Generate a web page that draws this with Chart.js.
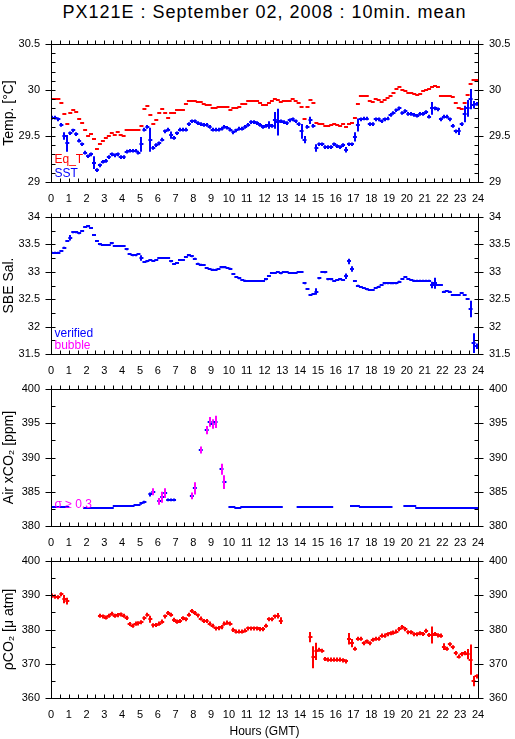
<!DOCTYPE html>
<html lang="en">
<head>
<meta charset="UTF-8">
<title>PX121E : September 02, 2008 : 10min. mean</title>
<script src="https://cdn.jsdelivr.net/npm/chart.js"></script>
<style>
  body { margin: 0; background: #fff; }
  #page { position: relative; width: 515px; height: 739px; overflow: hidden; }
  #page canvas { position: absolute; left: 0; top: 0; }
  #title {
    position: absolute; left: 0; top: 2px; width: 529px;
    text-align: center; line-height: 20px; letter-spacing: 1px;
    font: 18px "Liberation Sans", Arial, Helvetica, sans-serif;
  }
</style>
</head>
<body>
<div id="page">
  <div id="title">PX121E : September 02, 2008 : 10min. mean</div>
  <canvas id="c1" width="515" height="739"></canvas>
  <canvas id="c2" width="515" height="739"></canvas>
  <canvas id="c3" width="515" height="739"></canvas>
  <canvas id="c4" width="515" height="739"></canvas>
</div>

<script>
// 10-minute means, one row per hour (GMT)
const binHours = 10 / 60;

const eqT = [
  29.90, 29.90, 29.90, 29.86, 29.74, 29.63,
  29.75, 29.78, 29.76, 29.68, 29.64, 29.56,
  29.50, 29.52, 29.47, 29.36, 29.41, 29.45,
  29.48, 29.50, 29.53, 29.51, 29.54, 29.51,
  29.50, 29.57, 29.57, 29.57, 29.57, 29.57,
  29.61, 29.79, 29.83, 29.73, 29.63, 29.67,
  29.75, 29.79, 29.75, 29.70, 29.75, 29.75,
  29.78, 29.78, 29.78, 29.85, 29.88, 29.88,
  29.88, 29.87, 29.87, 29.85, 29.84, 29.84,
  29.80, 29.80, 29.82, 29.82, 29.82, 29.82,
  29.78, 29.80, 29.80, 29.82, 29.85, 29.85,
  29.88, 29.88, 29.88, 29.88, 29.86, 29.84,
  29.84, 29.86, 29.88, 29.90, 29.89, 29.87,
  29.88, 29.88, 29.88, 29.90, 29.88, 29.86,
  29.81, 29.68, 29.81, 29.89, 29.86, 29.64,
  29.63, 29.63, 29.61, 29.61, 29.62, 29.63,
  29.62, 29.61, 29.63, 29.60, 29.63, 29.64,
  29.70, 29.85, 29.93, 29.93, 29.93, 29.88,
  29.87, 29.90, 29.89, 29.87, 29.89, 29.91,
  29.94, 29.97, 30.01, 30.03, 30.00, 29.99,
  29.97, 29.97, 29.96, 29.95, 29.96, 29.99,
  30.00, 30.01, 30.03, 30.04, 30.03, 29.93,
  29.93, 29.93, 29.93, 29.92, 29.86, 29.80,
  29.79, 29.86, 29.95, 30.06, 30.11, 30.11
];

const sst = [
  29.70, 29.70, 29.68, 29.62, 29.50, 29.42,
  29.53, 29.56, 29.52, 29.45, 29.41, 29.32,
  29.28, 29.30, 29.21, 29.13, 29.18, 29.22,
  29.23, 29.27, 29.30, 29.29, 29.30, 29.27,
  29.27, 29.33, 29.34, 29.34, 29.34, 29.32,
  29.41, 29.57, 29.60, 29.46, 29.37, 29.40,
  29.42, 29.46, 29.55, 29.57, 29.51, 29.48,
  29.53, 29.57, 29.57, 29.57, 29.63, 29.66,
  29.66, 29.64, 29.63, 29.62, 29.62, 29.60,
  29.57, 29.57, 29.57, 29.58, 29.60, 29.59,
  29.57, 29.54, 29.56, 29.58, 29.58, 29.60,
  29.62, 29.65, 29.65, 29.64, 29.62, 29.60,
  29.61, 29.62, 29.61, 29.67, 29.65, 29.66,
  29.65, 29.64, 29.67, 29.68, 29.66, 29.63,
  29.55, 29.46, 29.60, 29.67, 29.61, 29.37,
  29.41, 29.41, 29.38, 29.38, 29.38, 29.41,
  29.39, 29.38, 29.40, 29.35, 29.41, 29.41,
  29.49, 29.62, 29.68, 29.69, 29.69, 29.63,
  29.63, 29.68, 29.68, 29.66, 29.68, 29.69,
  29.73, 29.75, 29.78, 29.80, 29.75, 29.77,
  29.74, 29.74, 29.73, 29.72, 29.74, 29.74,
  29.76, 29.71, 29.80, 29.80, 29.79, 29.68,
  29.71, 29.71, 29.68, 29.61, 29.55, 29.55,
  29.63, 29.74, 29.80, 29.90, 29.84, 29.85
];
// standard deviation of the 10-min bins (default, then larger ones by bin index)
const sstErrDefault = 0.02;
const sstErrBig = { 4: 0.04, 5: 0.09, 14: 0.07, 30: 0.08, 33: 0.13, 40: 0.04, 73: 0.04, 75: 0.09, 76: 0.145,
  84: 0.08, 85: 0.04, 87: 0.04, 89: 0.04, 99: 0.03, 102: 0.05, 103: 0.07, 128: 0.07, 137: 0.04,
  139: 0.09, 140: 0.09, 141: 0.11, 142: 0.04 };

const salinity = [
  33.35, 33.35, 33.35, 33.38, 33.44, 33.56,
  33.62, 33.72, 33.72, 33.70, 33.74, 33.82,
  33.83, 33.80, 33.67, 33.56, 33.50, 33.49,
  33.49, 33.49, 33.52, 33.47, 33.47, 33.47,
  33.47, 33.41, 33.33, 33.30, 33.30, 33.33,
  33.25, 33.18, 33.19, 33.21, 33.20, 33.22,
  33.25, 33.25, 33.25, 33.25, 33.19, 33.14,
  33.16, 33.22, 33.22, 33.27, 33.30, 33.28,
  33.24, 33.15, 33.13, 33.12, 33.07, 33.05,
  33.04, 33.04, 33.05, 33.08, 33.08, 33.07,
  33.06, 32.96, 32.90, 32.88, 32.85, 32.84,
  32.83, 32.83, 32.83, 32.83, 32.83, 32.83,
  32.86, 32.92, 32.98, 32.98, 33.00, 32.97,
  33.00, 33.00, 32.98, 32.98, 32.98, 33.00,
  33.00, 32.79, 32.69, 32.58, 32.59, 32.64,
  32.88, 33.00, 32.99, 32.86, 32.86, 32.83,
  32.85, 32.86, 32.85, 32.92, 33.19, 33.05,
  32.83, 32.75, 32.72, 32.70, 32.68, 32.67,
  32.67, 32.70, 32.73, 32.76, 32.79, 32.79,
  32.79, 32.79, 32.79, 32.82, 32.87, 32.90,
  32.87, 32.85, 32.84, 32.84, 32.84, 32.84,
  32.84, 32.84, 32.76, 32.79, 32.76, 32.76,
  32.64, 32.65, 32.64, 32.58, 32.58, 32.58,
  32.61, 32.58, 32.50, 32.32, 31.70, 31.64
];
const salErrDefault = 0.015;
const salErrBig = { 6: 0.05, 30: 0.05, 89: 0.06, 99: 0.05, 100: 0.05, 101: 0.05, 128: 0.06, 129: 0.1,
  141: 0.15, 142: 0.18, 143: 0.05 };

const airCO2 = [
  382.8, 382.8, 382.8, 382.8, 382.8, 382.8,
  null, null, null, null, null, 382.67,
  382.67, 382.67, 382.67, 382.67, 382.67, 382.67,
  382.67, 382.67, 382.67, 382.86, 382.95, 382.95,
  382.95, 382.95, 382.95, 382.95, 383.05, 383.05,
  383.3, 383.5, null, 384.6, 385.0, null,
  383.6, 384.2, 384.8, 383.8, 383.8, 383.8,
  null, null, null, null, null, 384.4,
  385.5, null, 391.1, null, 394.0, 395.2,
  394.9, 395.2, null, 388.3, 386.4, null,
  382.8, 382.8, 382.7, 382.7, 382.8, 382.8,
  382.8, 382.8, 382.8, 382.8, 382.8, 382.8,
  382.8, 382.8, 382.8, 382.8, 382.8, 382.8,
  null, null, null, null, null, 382.8,
  382.8, 382.8, 382.8, 382.8, 382.8, 382.8,
  382.8, 382.8, 382.8, 382.8, 382.8, null,
  null, null, null, null, null, 382.9,
  382.9, 382.9, 382.8, 382.8, 382.8, 382.8,
  382.8, 382.8, 382.8, 382.8, 382.8, 382.8,
  382.8, null, null, null, null, 382.85,
  382.85, 382.85, 382.85, 382.65, 382.65, 382.65,
  382.65, 382.65, 382.65, 382.65, 382.65, 382.65,
  382.65, 382.65, 382.65, 382.65, 382.65, 382.65,
  382.65, 382.65, 382.65, 382.65, 382.65, 382.65
];
const airErrDefault = 0;
const airErrBig = { 30: 0.2, 31: 0.2, 33: 0.3, 34: 0.5, 36: 0.5, 37: 0.8, 38: 0.7, 39: 0.2, 40: 0.2, 41: 0.2,
  47: 0.5, 48: 0.9, 50: 0.5, 52: 0.6, 53: 0.7, 54: 0.7, 55: 0.9, 57: 0.8, 58: 1.0 };
// bins with sigma >= 0.3
const airHighSigma = [34, 36, 37, 38, 47, 48, 50, 52, 53, 54, 55, 57, 58];

const pCO2 = [
  389.9, 389.6, 389.4, 390.3, 388.9, 388.3,
  null, null, null, null, null, null,
  null, null, null, null, 384.0, 383.8,
  383.5, 384.0, 384.6, 384.0, 384.2, 384.4,
  384.0, 383.4, 381.6, 381.1, 381.7, 381.8,
  382.1, 383.3, 384.3, 383.0, 381.2, 381.3,
  381.7, 382.3, 383.8, 384.8, 384.3, 382.8,
  382.3, 382.5, 383.3, 383.0, 384.3, 385.4,
  384.8, 384.1, 383.2, 382.5, 382.5, 381.7,
  381.1, 380.3, 380.4, 380.7, 381.7, 382.0,
  381.7, 379.9, 379.4, 379.4, 379.4, 379.7,
  380.3, 380.3, 380.3, 380.3, 380.1, 380.1,
  381.1, 383.0, 383.0, 383.8, 384.0, 382.6,
  null, null, null, null, null, null,
  null, null, null, 377.8, 371.9, 373.6,
  374.1, 373.8, 371.4, 371.2, 371.2, 371.2,
  371.2, 371.2, 371.0, 370.7, 377.3, 376.0,
  374.4, 377.3, 377.3, 376.0, 376.5, 376.0,
  377.0, 377.3, 377.3, 378.2, 378.2, 378.6,
  378.9, 379.1, 379.4, 380.1, 380.7, 380.1,
  379.2, 379.2, 378.6, 378.6, 378.9, 378.7,
  379.6, 378.4, 378.4, 378.7, 378.3, 378.2,
  375.0, 374.4, 375.7, 374.8, 373.1, 372.1,
  372.8, 373.1, 372.8, 371.2, 364.9, 366.3
];
const pco2ErrDefault = 0.6;
const pco2ErrBig = { 4: 1.2, 5: 1.0, 33: 1.0, 76: 0.8, 77: 1.0, 87: 1.5, 88: 3.2, 89: 2.5, 100: 1.7, 101: 1.2,
  128: 2.5, 132: 1.0, 140: 1.5, 141: 4.4, 142: 1.5 };

const RED = '#ff0000', BLUE = '#0000ff', MAGENTA = '#ff00ff';
const FONT = '"Liberation Sans", Arial, Helvetica, sans-serif';

function toPoints(vals) {
  return vals.map((v, i) => ({ x: i * binHours, y: v }));
}
function errList(n, def, big) {
  return Array.from({ length: n }, (_, i) => (big[i] !== undefined ? big[i] : def));
}

// each 10-min mean: horizontal bar over its bin, vertical bar = +/- std
const crossPlugin = {
  id: 'crosses',
  afterDatasetsDraw(chart) {
    const { ctx, chartArea: a, scales: { x, y } } = chart;
    ctx.save();
    ctx.beginPath();
    ctx.rect(a.left, a.top - 1, a.right - a.left + 1, a.bottom - a.top + 2);
    ctx.clip();
    ctx.lineWidth = 2;
    chart.data.datasets.forEach(ds => {
      ds.data.forEach((p, i) => {
        if (p.y === null) return;
        const x0 = x.getPixelForValue(p.x);
        const x1 = x.getPixelForValue(p.x + binHours);
        const py = Math.round(y.getPixelForValue(p.y));
        const xm = Math.round((x0 + x1) / 2);
        ctx.strokeStyle = ds.markColor;
        ctx.beginPath();
        ctx.moveTo(x0 - 0.5, py);
        ctx.lineTo(x1 + 0.5, py);
        ctx.stroke();
        const e = ds.errs ? ds.errs[i] : 0;
        if (e > 0) {
          ctx.strokeStyle = ds.flagged && ds.flagged.includes(i) ? MAGENTA : ds.markColor;
          ctx.beginPath();
          ctx.moveTo(xm, y.getPixelForValue(p.y - e));
          ctx.lineTo(xm, y.getPixelForValue(p.y + e));
          ctx.stroke();
        }
      });
    });
    ctx.restore();
  }
};

// box, tick marks and the small in-panel legends
const framePlugin = {
  id: 'frame',
  afterDraw(chart, args, opts) {
    const { ctx, chartArea: a, scales: { x, y } } = chart;
    const L = Math.round(a.left) + 0.5, R = Math.round(a.right) + 0.5;
    const T = Math.round(a.top) + 0.5, B = Math.round(a.bottom) + 0.5;
    ctx.save();
    ctx.strokeStyle = '#000';
    ctx.lineWidth = 1;
    ctx.strokeRect(L, T, R - L, B - T);
    ctx.beginPath();
    for (let k = 0; k <= 48; k++) {
      const px = Math.round(x.getPixelForValue(k * 0.5)) + 0.5;
      ctx.moveTo(px, T); ctx.lineTo(px, T - 4);
      ctx.moveTo(px, B); ctx.lineTo(px, B - 4);
    }
    const nMinor = Math.round((y.max - y.min) / opts.minor);
    for (let k = 0; k <= nMinor; k++) {
      const py = Math.round(y.getPixelForValue(y.min + k * opts.minor)) + 0.5;
      ctx.moveTo(L, py); ctx.lineTo(L + 4, py);
      ctx.moveTo(R, py); ctx.lineTo(R - 4, py);
    }
    const nMajor = Math.round((y.max - y.min) / opts.major);
    for (let k = 0; k <= nMajor; k++) {
      const py = Math.round(y.getPixelForValue(y.min + k * opts.major)) + 0.5;
      ctx.moveTo(L - 6, py); ctx.lineTo(L, py);
      ctx.moveTo(R, py); ctx.lineTo(R + 5, py);
    }
    ctx.stroke();
    ctx.font = '12px ' + FONT;
    ctx.textBaseline = 'alphabetic';
    (opts.notes || []).forEach(n => {
      ctx.fillStyle = n.color;
      ctx.fillText(n.text, a.left + 3.5, a.bottom - n.up);
    });
    ctx.restore();
  }
};

function makePanel(id, p) {
  const tickFont = { family: FONT, size: 11 };
  const yTicks = { stepSize: p.major, color: '#000', font: tickFont, padding: 11, callback: v => String(v) };
  return new Chart(document.getElementById(id), {
    type: 'scatter',
    data: { datasets: p.datasets },
    options: {
      responsive: false,
      animation: false,
      devicePixelRatio: 1,
      events: [],
      layout: { padding: { top: p.top, bottom: 739 - p.bottom - p.xh, left: 0, right: 0 } },
      elements: { point: { radius: 0 } },
      plugins: {
        legend: { display: false },
        tooltip: { enabled: false },
        frame: { minor: p.minor, major: p.major, notes: p.notes }
      },
      scales: {
        x: {
          type: 'linear', position: 'bottom', min: 0, max: 24,
          grid: { display: false, drawTicks: false },
          border: { display: false },
          ticks: { stepSize: 1, autoSkip: false, maxRotation: 0, padding: 10, color: '#000', font: tickFont,
                   callback: v => String(v) },
          title: { display: !!p.xTitle, text: p.xTitle || '', color: '#000',
                   font: { family: FONT, size: 12 }, padding: { top: 0, bottom: 0 } },
          afterFit: s => { s.height = p.xh; }
        },
        y: {
          position: 'left', min: p.min, max: p.max,
          grid: { display: false, drawTicks: false },
          border: { display: false },
          ticks: yTicks,
          title: { display: true, text: p.yTitle, color: '#000',
                   font: { family: FONT, size: 14 }, padding: { top: 1, bottom: 0 } },
          afterFit: s => { s.width = 51; }
        },
        y2: {
          position: 'right', min: p.min, max: p.max,
          grid: { display: false, drawTicks: false },
          border: { display: false },
          ticks: yTicks,
          afterFit: s => { s.width = 37; }
        }
      }
    },
    plugins: [crossPlugin, framePlugin]
  });
}

makePanel('c1', {
  top: 44, bottom: 182, xh: 30, min: 29, max: 30.5, major: 0.5, minor: 0.1,
  yTitle: 'Temp. [°C]',
  notes: [{ text: 'Eq_T', color: RED, up: 19 }, { text: 'SST', color: BLUE, up: 5.5 }],
  datasets: [
    { label: 'Eq_T', data: toPoints(eqT), markColor: RED, errs: null },
    { label: 'SST', data: toPoints(sst), markColor: BLUE, errs: errList(sst.length, sstErrDefault, sstErrBig) }
  ]
});

makePanel('c2', {
  top: 217, bottom: 354, xh: 30, min: 31.5, max: 34, major: 0.5, minor: 0.25,
  yTitle: 'SBE Sal.',
  notes: [{ text: 'verified', color: BLUE, up: 17.5 }, { text: 'bubble', color: MAGENTA, up: 5.5 }],
  datasets: [
    { label: 'SBE Sal.', data: toPoints(salinity), markColor: BLUE,
      errs: errList(salinity.length, salErrDefault, salErrBig) }
  ]
});

makePanel('c3', {
  top: 389, bottom: 526, xh: 30, min: 380, max: 400, major: 5, minor: 2.5,
  yTitle: 'Air xCO₂ [ppm]',
  notes: [{ text: 'σ ≥ 0.3', color: MAGENTA, up: 18 }],
  datasets: [
    { label: 'Air xCO2', data: toPoints(airCO2), markColor: BLUE,
      errs: errList(airCO2.length, airErrDefault, airErrBig), flagged: airHighSigma }
  ]
});

makePanel('c4', {
  top: 561, bottom: 698, xh: 41, min: 360, max: 400, major: 10, minor: 5,
  yTitle: 'ρCO₂ [μ atm]', xTitle: 'Hours (GMT)',
  notes: [],
  datasets: [
    { label: 'pCO2', data: toPoints(pCO2), markColor: RED,
      errs: errList(pCO2.length, pco2ErrDefault, pco2ErrBig) }
  ]
});
</script>
</body>
</html>
